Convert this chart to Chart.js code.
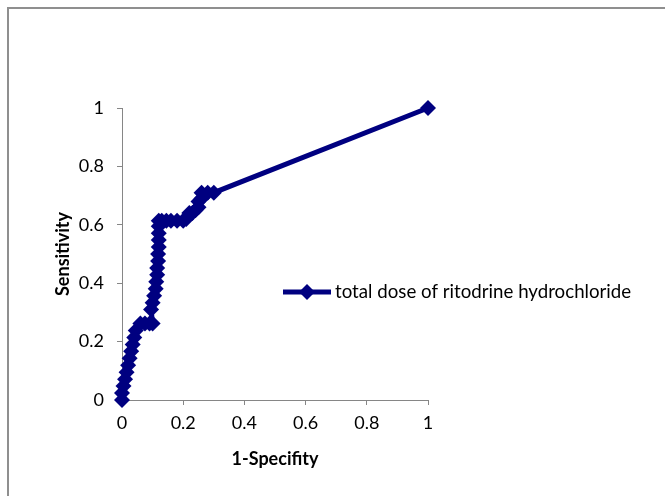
<!DOCTYPE html>
<html>
<head>
<meta charset="utf-8">
<script src="https://cdn.jsdelivr.net/npm/chart.js@4.4.1/dist/chart.umd.min.js"></script>
<style>
  html, body { margin: 0; padding: 0; background: #fff; }
  #wrap { position: relative; width: 665px; height: 496px; }
  #frame { position: absolute; left: 7px; top: 7px; right: 0; bottom: 0;
           border-left: 2px solid #8f8f8f; border-top: 2px solid #8f8f8f; }
  canvas { position: absolute; left: 0; top: 0; }
</style>
</head>
<body>
<div id="wrap">
  <div id="frame"></div>
  <canvas id="c" width="665" height="496"></canvas>
</div>
<script>
const seriesName = "total dose of ritodrine hydrochloride";
const xTitle = "1-Specifity";
const yTitle = "Sensitivity";
const specificity1 = [0, 0, 0.005, 0.01, 0.015, 0.02, 0.025, 0.03, 0.035, 0.04, 0.045, 0.06, 0.075, 0.09, 0.1,
  0.095, 0.1, 0.105, 0.11, 0.112, 0.115, 0.115, 0.118, 0.118, 0.12, 0.12, 0.12, 0.12, 0.12,
  0.13, 0.145, 0.16, 0.18, 0.2, 0.21, 0.22, 0.23, 0.24, 0.25, 0.25, 0.26, 0.26, 0.28, 0.3, 1];
const sensitivity = [0, 0.024, 0.048, 0.071, 0.095, 0.119, 0.143, 0.167, 0.19, 0.214, 0.238, 0.262, 0.262, 0.262, 0.262,
  0.31, 0.333, 0.357, 0.381, 0.405, 0.429, 0.452, 0.476, 0.5, 0.524, 0.548, 0.571, 0.595, 0.614,
  0.614, 0.614, 0.614, 0.614, 0.614, 0.62, 0.64, 0.64, 0.65, 0.66, 0.68, 0.69, 0.71, 0.71, 0.71, 1];
const tickValues = [0, 0.2, 0.4, 0.6, 0.8, 1];

const NAVY = '#000080';
const FONT = 'Lato';
const points = specificity1.map((x, i) => ({ x: x, y: sensitivity[i] }));

const legendPlugin = {
  id: 'insideLegend',
  afterDraw(chart) {
    const ctx = chart.ctx;
    const y = 292, x0 = 283, x1 = 331;
    ctx.save();
    ctx.strokeStyle = NAVY; ctx.lineWidth = 5;
    ctx.beginPath(); ctx.moveTo(x0, y); ctx.lineTo(x1, y); ctx.stroke();
    const cx = (x0 + x1) / 2, r = 8;
    ctx.fillStyle = NAVY;
    ctx.beginPath(); ctx.moveTo(cx, y - r); ctx.lineTo(cx + r, y); ctx.lineTo(cx, y + r); ctx.lineTo(cx - r, y); ctx.closePath(); ctx.fill();
    ctx.fillStyle = '#000';
    ctx.font = '18.7px ' + FONT;
    ctx.textBaseline = 'middle';
    ctx.fillText(seriesName, 335, y);
    ctx.restore();
  }
};

new Chart(document.getElementById('c'), {
  type: 'scatter',
  data: {
    datasets: [{
      label: seriesName,
      data: points,
      showLine: true,
      clip: false,
      borderColor: NAVY,
      backgroundColor: NAVY,
      borderWidth: 5,
      pointStyle: 'rectRot',
      pointRadius: 8,
      pointBorderWidth: 0,
      pointHoverRadius: 8
    }]
  },
  options: {
    responsive: false,
    animation: false,
    layout: { padding: { left: 0, right: 237, top: 108, bottom: 0 } },
    plugins: { legend: { display: false }, tooltip: { enabled: false } },
    scales: {
      x: {
        type: 'linear', min: 0, max: 1,
        afterFit(s) { s.height = 96; },
        afterBuildTicks(s) { s.ticks = tickValues.map(v => ({ value: v })); },
        grid: { drawOnChartArea: false, drawTicks: true, tickLength: 5, color: '#868686' },
        border: { color: '#868686', width: 1 },
        ticks: { color: '#000', font: { family: FONT, size: 18 }, padding: 7, callback: v => String(v) },
        title: { display: true, text: xTitle, color: '#000', font: { family: FONT, size: 18, weight: 'bold' }, padding: { top: 0, bottom: 26 } }
      },
      y: {
        type: 'linear', min: 0, max: 1,
        afterFit(s) { s.width = 122; },
        afterBuildTicks(s) { s.ticks = tickValues.map(v => ({ value: v })); },
        grid: { drawOnChartArea: false, drawTicks: true, tickLength: 5, color: '#868686' },
        border: { color: '#868686', width: 1 },
        ticks: { color: '#000', font: { family: FONT, size: 18 }, padding: 13, callback: v => String(v) },
        title: { display: true, text: yTitle, color: '#000', font: { family: FONT, size: 18, weight: 'bold' }, padding: { top: 52, bottom: 0 } }
      }
    }
  },
  plugins: [legendPlugin]
});
</script>
</body>
</html>
